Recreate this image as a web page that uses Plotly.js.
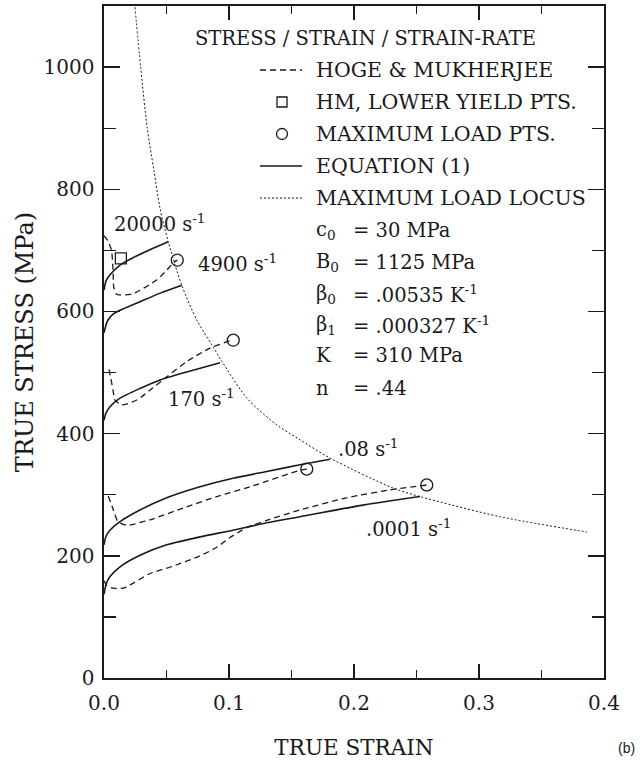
<!DOCTYPE html>
<html>
<head>
<meta charset="utf-8">
<script src="https://cdn.plot.ly/plotly-3.0.1.min.js"></script>
<style>
  html, body { margin: 0; padding: 0; background: #ffffff; }
  #chart { width: 640px; height: 762px; }
</style>
</head>
<body>
<div id="chart"></div>
<script>
// ---------- data ----------
const locusStrain = [0.0248, 0.0294, 0.0346, 0.0400, 0.0448, 0.0514, 0.0622, 0.0742, 0.0864, 0.0944, 0.1144, 0.1384, 0.1568, 0.1808, 0.2312, 0.2528, 0.3168, 0.3864];
const locusStress = [1098, 998, 900, 830, 769, 714, 643, 586, 545, 518, 458, 414, 390, 360, 311, 297, 264, 239];

const eq20000Strain = [0, 0.0016, 0.0048, 0.0128, 0.0232, 0.0368, 0.0514];
const eq20000Stress = [635, 650, 660, 676, 688, 701, 714];

const eq4900Strain = [0, 0.0016, 0.0032, 0.0075, 0.0128, 0.0288, 0.045, 0.0622];
const eq4900Stress = [565, 578, 586, 596, 602, 616, 630, 643];

const eq170Strain = [0, 0.0016, 0.0048, 0.0128, 0.0288, 0.0448, 0.0662, 0.0928];
const eq170Stress = [422, 434, 444, 458, 474, 488, 501, 516];

const eq08Strain = [0, 0.0016, 0.0048, 0.0128, 0.0288, 0.0502, 0.0768, 0.1032, 0.1302, 0.1568, 0.1808];
const eq08Stress = [218, 232, 242, 256, 275, 295, 313, 327, 338, 349, 358];

const eq0001Strain = [0, 0.0016, 0.0048, 0.0128, 0.0288, 0.0502, 0.0768, 0.1032, 0.1302, 0.1568, 0.2072, 0.2528];
const eq0001Stress = [137, 153, 166, 182, 201, 218, 231, 242, 254, 264, 283, 297];

const hm4900Strain = [0, 0.003, 0.006, 0.0072, 0.0078, 0.0095, 0.0128, 0.0232, 0.0424, 0.0504, 0.0552, 0.0586];
const hm4900Stress = [724, 716, 700, 668, 640, 629, 627, 629, 652, 668, 679, 684];

const hm170Strain = [0.004, 0.0055, 0.0072, 0.0088, 0.0142, 0.0262, 0.0392, 0.0502, 0.0662, 0.0848, 0.1008, 0.1034];
const hm170Stress = [505, 490, 471, 455, 447, 455, 475, 493, 518, 540, 552, 553];

const hm08Strain = [0.0034, 0.007, 0.0112, 0.0182, 0.0368, 0.0632, 0.0902, 0.1168, 0.1568, 0.1622];
const hm08Stress = [298, 278, 256, 250, 259, 278, 297, 313, 340, 342];

const hm0001Strain = [0, 0.0024, 0.0072, 0.0152, 0.0232, 0.0368, 0.0552, 0.0768, 0.0902, 0.1016, 0.115, 0.1302, 0.1568, 0.1942, 0.2288, 0.2582];
const hm0001Stress = [159, 151, 147, 147, 155, 171, 183, 200, 214, 231, 247, 258, 275, 295, 308, 316];

const maxLoadStrain = [0.0586, 0.1034, 0.1622, 0.2582];
const maxLoadStress = [684, 553, 342, 316];

const lowerYieldStrain = [0.0135];
const lowerYieldStress = [687];

const rateLabels = ['20000 s<sup>-1</sup>', '4900 s<sup>-1</sup>', '170 s<sup>-1</sup>', '.08 s<sup>-1</sup>', '.0001 s<sup>-1</sup>'];
const rateLabelStrain = [0.0445, 0.1068, 0.0776, 0.2116, 0.2436];
const rateLabelStress = [744, 679, 458, 377, 245];

const legendTitle = 'STRESS / STRAIN / STRAIN-RATE';
const legendLabels = ['HOGE &amp; MUKHERJEE', 'HM, LOWER YIELD PTS.', 'MAXIMUM LOAD PTS.', 'EQUATION (1)', 'MAXIMUM LOAD LOCUS'];
const paramNames = ['c<sub>0</sub>', 'B<sub>0</sub>', 'β<sub>0</sub>', 'β<sub>1</sub>', 'K', 'n'];
const paramValues = ['= 30 MPa', '= 1125 MPa', '= .00535 K<sup>-1</sup>', '= .000327 K<sup>-1</sup>', '= 310 MPa', '= .44'];

const xTickVals = [0, 0.1, 0.2, 0.3, 0.4];
const yTickVals = [0, 200, 400, 600, 800, 1000];

// ---------- styling / layout ----------
const FONT = 'DejaVu Serif';
const INK = '#1a1a1a';
const W = 640, H = 762;
const M = { l: 104, r: 36, t: 6, b: 84 };
const PW = W - M.l - M.r, PH = H - M.t - M.b;
const px = x => (x - M.l) / PW;          // pixel -> paper x
const py = y => (M.t + PH - y) / PH;      // pixel -> paper y

const solidLine = { color: INK, width: 1.6, shape: 'spline', smoothing: 0.6 };
const dashLine = { color: INK, width: 1.3, dash: '6px,4px', shape: 'spline', smoothing: 0.6 };

function curve(x, y, line) {
  return { type: 'scatter', mode: 'lines', x: x, y: y, line: line, hoverinfo: 'skip', showlegend: false };
}

const traces = [
  { type: 'scatter', mode: 'lines', x: locusStrain, y: locusStress,
    line: { color: INK, width: 1, dash: '2px,2px', shape: 'spline', smoothing: 0.8 }, showlegend: false, hoverinfo: 'skip' },
  curve(eq20000Strain, eq20000Stress, solidLine),
  curve(eq4900Strain, eq4900Stress, solidLine),
  curve(eq170Strain, eq170Stress, solidLine),
  curve(eq08Strain, eq08Stress, solidLine),
  curve(eq0001Strain, eq0001Stress, solidLine),
  curve(hm4900Strain, hm4900Stress, dashLine),
  curve(hm170Strain, hm170Stress, dashLine),
  curve(hm08Strain, hm08Stress, dashLine),
  curve(hm0001Strain, hm0001Stress, dashLine),
  { type: 'scatter', mode: 'markers', x: maxLoadStrain, y: maxLoadStress, showlegend: false,
    marker: { symbol: 'circle-open', size: 12, color: INK, line: { color: INK, width: 1.3 } } },
  { type: 'scatter', mode: 'markers', x: lowerYieldStrain, y: lowerYieldStress, showlegend: false,
    marker: { symbol: 'square-open', size: 11, color: INK, line: { color: INK, width: 1.3 } } }
];

const rateFont = { family: FONT, size: 19.5, color: INK };
const titleFont = { family: FONT, size: 19.5, color: INK };
const entryFont = { family: FONT, size: 20.5, color: INK };
const paramFont = { family: FONT, size: 19.5, color: INK };
const annotations = [];

// rate labels (data coordinates)
rateLabels.forEach((t, i) => annotations.push({
  xref: 'x', yref: 'y', x: rateLabelStrain[i], y: rateLabelStress[i], text: t,
  showarrow: false, xanchor: 'center', yanchor: 'middle', font: rateFont
}));

// legend block
const LEG_TEXT_X = 314, EQ_X = 351;
const legendRowsY = [70, 102, 134, 166, 198];
const paramRowsY = [230, 262, 294, 325, 356, 388];
annotations.push({ xref: 'paper', yref: 'paper', x: px(193), y: py(38), text: legendTitle,
  showarrow: false, xanchor: 'left', yanchor: 'middle', font: titleFont });
legendLabels.forEach((t, i) => annotations.push({
  xref: 'paper', yref: 'paper', x: px(LEG_TEXT_X), y: py(legendRowsY[i]), text: t,
  showarrow: false, xanchor: 'left', yanchor: 'middle', font: entryFont }));
paramNames.forEach((t, i) => {
  annotations.push({ xref: 'paper', yref: 'paper', x: px(LEG_TEXT_X), y: py(paramRowsY[i]), text: t,
    showarrow: false, xanchor: 'left', yanchor: 'middle', font: paramFont });
  annotations.push({ xref: 'paper', yref: 'paper', x: px(EQ_X), y: py(paramRowsY[i]), text: paramValues[i],
    showarrow: false, xanchor: 'left', yanchor: 'middle', font: paramFont });
});

// panel tag
annotations.push({ xref: 'paper', yref: 'paper', x: px(626), y: py(748), text: '(b)',
  showarrow: false, xanchor: 'center', yanchor: 'middle',
  font: { family: 'Liberation Sans', size: 14, color: INK } });

// legend samples (paper coordinates)
const SX0 = 260, SX1 = 302, SXC = 282;
const shapes = [
  { type: 'line', xref: 'paper', yref: 'paper', x0: px(SX0), x1: px(SX1), y0: py(legendRowsY[0]), y1: py(legendRowsY[0]),
    line: { color: INK, width: 1.3, dash: '6px,4px' } },
  { type: 'rect', xref: 'paper', yref: 'paper', x0: px(SXC - 5), x1: px(SXC + 5), y0: py(legendRowsY[1] - 5), y1: py(legendRowsY[1] + 5),
    line: { color: INK, width: 1.3 } },
  { type: 'circle', xref: 'paper', yref: 'paper', x0: px(SXC - 5.5), x1: px(SXC + 5.5), y0: py(legendRowsY[2] - 5.5), y1: py(legendRowsY[2] + 5.5),
    line: { color: INK, width: 1.3 } },
  { type: 'line', xref: 'paper', yref: 'paper', x0: px(SX0), x1: px(SX1), y0: py(legendRowsY[3]), y1: py(legendRowsY[3]),
    line: { color: INK, width: 1.6 } },
  { type: 'line', xref: 'paper', yref: 'paper', x0: px(SX0), x1: px(SX1), y0: py(legendRowsY[4]), y1: py(legendRowsY[4]),
    line: { color: INK, width: 1, dash: '2px,2px' } }
];

const axisCommon = {
  showgrid: false, zeroline: false, showline: true, linecolor: INK, linewidth: 1.6,
  mirror: 'ticks', ticks: 'inside', tickcolor: INK, tickwidth: 1.4,
  tickfont: { family: FONT, size: 20, color: INK }
};

const layout = {
  width: W, height: H,
  margin: M,
  paper_bgcolor: '#ffffff', plot_bgcolor: '#ffffff',
  showlegend: false,
  xaxis: Object.assign({}, axisCommon, {
    range: [0, 0.4], tickvals: xTickVals, tickformat: '.1f', ticklen: 14,
    ticklabelstandoff: 6,
    minor: { dtick: 0.05, ticks: 'inside', ticklen: 8, tickwidth: 1.2, tickcolor: INK, showgrid: false },
    title: { text: 'TRUE STRAIN', font: { family: FONT, size: 21.5, color: INK }, standoff: 26 }
  }),
  yaxis: Object.assign({}, axisCommon, {
    range: [0, 1100], tickvals: yTickVals, ticklen: 16,
    ticklabelstandoff: 4,
    minor: { dtick: 100, ticks: 'inside', ticklen: 12, tickwidth: 1.2, tickcolor: INK, showgrid: false },
    title: { text: 'TRUE STRESS (MPa)', font: { family: FONT, size: 24, color: INK }, standoff: 3 }
  }),
  annotations: annotations,
  shapes: shapes
};

Plotly.newPlot('chart', traces, layout, { displayModeBar: false, staticPlot: true });
</script>
</body>
</html>
